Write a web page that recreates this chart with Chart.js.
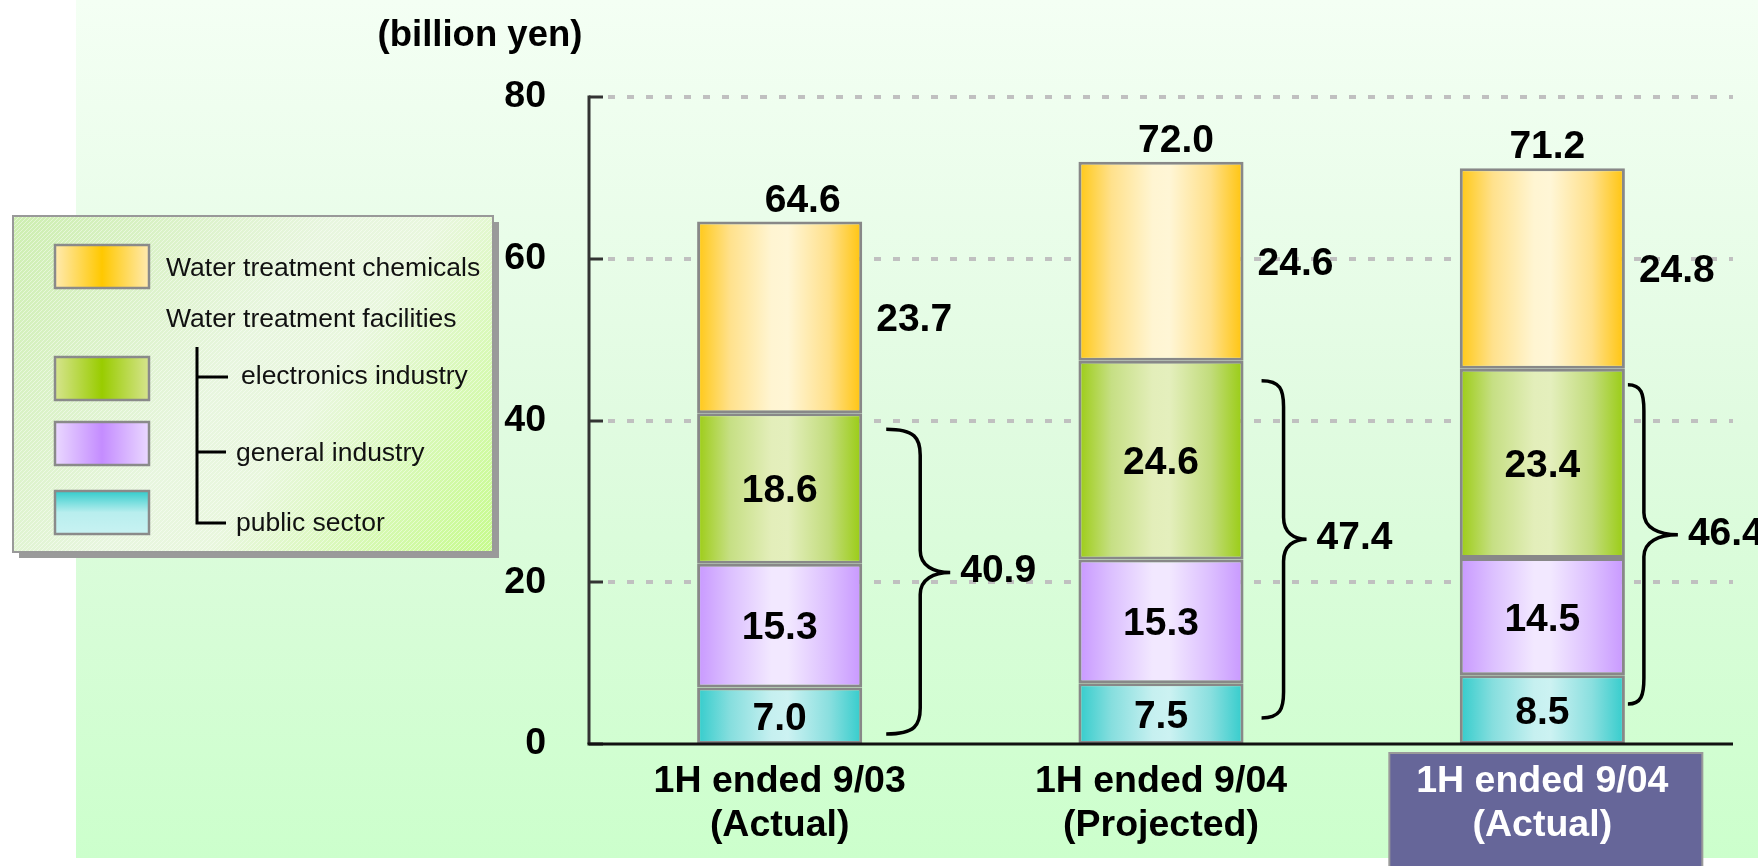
<!DOCTYPE html>
<html><head><meta charset="utf-8">
<script src="https://cdn.jsdelivr.net/npm/chart.js@4.4.1/dist/chart.umd.min.js"></script>
<style>html,body{margin:0;padding:0;background:#fff;}#wrap{width:1758px;height:866px;position:relative;}</style>
</head><body><div id="wrap"><canvas id="c"></canvas></div>
<script>
// ---------- data ----------
const categories = [['1H ended 9/03','(Actual)'],['1H ended 9/04','(Projected)'],['1H ended 9/04','(Actual)']];
const seriesNames = ['public sector','general industry','electronics industry','Water treatment chemicals'];
const publicSector = [7.0, 7.5, 8.5];
const generalIndustry = [15.3, 15.3, 14.5];
const electronicsIndustry = [18.6, 24.6, 23.4];
const waterChemicals = [23.7, 24.6, 24.8];
const yTickValues = [0, 20, 40, 60, 80];
const unitLabel = '(billion yen)';
const facilitiesTitle = 'Water treatment facilities';

// ---------- style ----------
const FONT = '"Liberation Sans", Arial, Helvetica, sans-serif';
const LABEL_SIZE = 39;
const stopsPos = [0, 0.2, 0.45, 0.55, 0.8, 1];
const barStops = [
  ['#33cccc','#86dede','#c6f0f0','#ccf2f2','#8adfdf','#33cccc'],
  ['#c898ff','#dcc0ff','#f2e8ff','#f2e8ff','#dcbfff','#c898ff'],
  ['#9ccc14','#c6df84','#e3eeba','#e4efbd','#c2dc7c','#99cc11'],
  ['#ffc814','#ffe18c','#fff5d2','#fff6d6','#ffe08a','#ffc40c']
];
const braceX = [[24,58,88],[18,40,63],[3,19,53]];
const braceTopGap = [16,20,16];
const braceBotGap = [10,26,40];
const totalDx = [23,15,5];
const BAR_PCT = 0.433;

function barGradient(i){
  return function(ctx){
    const chart = ctx.chart;
    const xs = chart.scales.x;
    if (!chart.chartArea || !xs) return barStops[i][0];
    const cx = xs.getPixelForValue(ctx.dataIndex);
    const w = xs.width / categories.length * BAR_PCT;
    const g = chart.ctx.createLinearGradient(cx - w/2, 0, cx + w/2, 0);
    stopsPos.forEach((p,k)=>g.addColorStop(p, barStops[i][k]));
    return g;
  };
}

function textMid(ctx, txt, x, y, size){
  ctx.font = 'bold ' + size + 'px ' + FONT;
  ctx.textBaseline = 'alphabetic';
  ctx.fillText(txt, x, y + size*0.358);
}

function drawBrace(ctx, xe, xs, xt, yTop, yTip, yBot){
  const r = 26, rt = 22;
  ctx.beginPath();
  ctx.moveTo(xe, yTop);
  ctx.bezierCurveTo(xs - (xs-xe)*0.15, yTop, xs, yTop + r*0.35, xs, yTop + r);
  ctx.lineTo(xs, yTip - rt);
  ctx.bezierCurveTo(xs, yTip - rt*0.3, xt - (xt-xs)*0.55, yTip, xt, yTip);
  ctx.bezierCurveTo(xt - (xt-xs)*0.55, yTip, xs, yTip + rt*0.3, xs, yTip + rt);
  ctx.lineTo(xs, yBot - r);
  ctx.bezierCurveTo(xs, yBot - r*0.35, xs - (xs-xe)*0.15, yBot, xe, yBot);
  ctx.stroke();
}

const deco = {
  id: 'deco',
  beforeDraw(chart){
    const ctx = chart.ctx;
    ctx.save();
    ctx.fillStyle = '#ffffff';
    ctx.fillRect(0,0,chart.width,chart.height);
    const g = ctx.createLinearGradient(0,0,0,858);
    g.addColorStop(0,'#f4fff4');
    g.addColorStop(0.5,'#e0fbe0');
    g.addColorStop(1,'#ccffcc');
    ctx.fillStyle = g;
    ctx.fillRect(76,0,chart.width-76,858);
    // highlighted category box
    const cx = chart.scales.x.getPixelForValue(2);
    ctx.fillStyle = '#666699';
    ctx.fillRect(cx-153, 753, 313, 120);
    ctx.strokeStyle = '#9a9a9a';
    ctx.lineWidth = 2;
    ctx.strokeRect(cx-153, 753, 313, 120);
    ctx.restore();
  },
  beforeDatasetsDraw(chart){
    const ctx = chart.ctx, ys = chart.scales.y, a = chart.chartArea;
    ctx.save();
    ctx.strokeStyle = '#c0c0c0';
    ctx.lineWidth = 4;
    ctx.setLineDash([7,12]);
    ys.ticks.forEach(t=>{
      if (t.value === 0) return;
      const y = Math.round(ys.getPixelForValue(t.value));
      ctx.beginPath(); ctx.moveTo(a.left+19, y); ctx.lineTo(a.right, y); ctx.stroke();
    });
    ctx.setLineDash([]);
    ctx.strokeStyle = '#333';
    ctx.lineWidth = 3;
    ctx.beginPath(); ctx.moveTo(a.left, a.top-1.5); ctx.lineTo(a.left, a.bottom); ctx.stroke();
    ys.ticks.forEach(t=>{
      const y = Math.round(ys.getPixelForValue(t.value));
      ctx.beginPath(); ctx.moveTo(a.left, y); ctx.lineTo(a.left+14, y); ctx.stroke();
    });
    ctx.restore();
  },
  afterDatasetsDraw(chart){
    const ctx = chart.ctx, a = chart.chartArea, ys = chart.scales.y;
    ctx.save();
    ctx.strokeStyle = '#111'; ctx.lineWidth = 3;
    ctx.beginPath(); ctx.moveTo(a.left-1.5, a.bottom); ctx.lineTo(a.right, a.bottom); ctx.stroke();
    ctx.fillStyle = '#000';
    const metas = [0,1,2,3].map(i=>chart.getDatasetMeta(i));
    const all = [publicSector, generalIndustry, electronicsIndustry, waterChemicals];
    for (let j=0;j<categories.length;j++){
      for (let i=0;i<3;i++){
        const el = metas[i].data[j];
        ctx.textAlign = 'center';
        textMid(ctx, all[i][j].toFixed(1), el.x, (el.y+el.base)/2, LABEL_SIZE);
      }
      const top = metas[3].data[j];
      const right = top.x + top.width/2;
      ctx.textAlign = 'left';
      textMid(ctx, waterChemicals[j].toFixed(1), right+14, (top.y+top.base)/2, LABEL_SIZE);
      const total = all.reduce((s,arr)=>s+arr[j],0);
      ctx.textAlign = 'center';
      ctx.font = 'bold ' + LABEL_SIZE + 'px ' + FONT;
      ctx.textBaseline = 'alphabetic';
      ctx.fillText(total.toFixed(1), top.x + totalDx[j], top.y - 10);
      const fac = publicSector[j] + generalIndustry[j] + electronicsIndustry[j];
      const yTop = ys.getPixelForValue(fac) + braceTopGap[j];
      const yBot = ys.getPixelForValue(0) - braceBotGap[j];
      const yTip = yTop + (yBot-yTop)*0.47;
      const [dE,dS,dT] = braceX[j];
      ctx.strokeStyle = '#000'; ctx.lineWidth = 3.5;
      drawBrace(ctx, right+dE, right+dS, right+dT, yTop, yTip, yBot);
      ctx.textAlign = 'left';
      textMid(ctx, fac.toFixed(1), right+dT+10, yTip-4, LABEL_SIZE);
    }
    ctx.restore();
  },
  afterDraw(chart){
    const ctx = chart.ctx;
    ctx.save();
    ctx.fillStyle = '#000';
    ctx.textAlign = 'center';
    textMid(ctx, unitLabel, 480, 33, 36.5);
    // legend box
    ctx.fillStyle = '#9a9a9a';
    ctx.fillRect(19,222,480,336);
    const lg = ctx.createLinearGradient(13,216,493,552);
    lg.addColorStop(0,'#cdeeb0');
    lg.addColorStop(0.45,'#e8f6df');
    lg.addColorStop(0.6,'#e9f7de');
    lg.addColorStop(1,'#c6fb8c');
    ctx.fillStyle = lg;
    ctx.fillRect(13,216,480,336);
    const pc = document.createElement('canvas'); pc.width = 4; pc.height = 4;
    const p = pc.getContext('2d');
    p.strokeStyle = 'rgba(255,255,255,0.45)'; p.lineWidth = 1;
    p.beginPath(); p.moveTo(-1,5); p.lineTo(5,-1); p.stroke();
    ctx.fillStyle = ctx.createPattern(pc,'repeat');
    ctx.fillRect(13,216,480,336);
    ctx.strokeStyle = '#999'; ctx.lineWidth = 2;
    ctx.strokeRect(13,216,480,336);
    const sw = [
      {y:245, stops:['#ffeab0','#ffc800','#ffeab0'], v:false},
      {y:357, stops:['#d6e48e','#99cc00','#d6e48e'], v:false},
      {y:422, stops:['#ead8ff','#c48cff','#ead8ff'], v:false},
      {y:491, stops:['#33cccc','#b8eeee','#c8f2f2'], v:true}
    ];
    sw.forEach(s=>{
      const g = s.v ? ctx.createLinearGradient(0,s.y,0,s.y+43) : ctx.createLinearGradient(55,0,149,0);
      g.addColorStop(0,s.stops[0]); g.addColorStop(0.5,s.stops[1]); g.addColorStop(1,s.stops[2]);
      ctx.fillStyle = g;
      ctx.fillRect(55,s.y,94,43);
      ctx.strokeStyle = '#8a8a8a'; ctx.lineWidth = 2.5;
      ctx.strokeRect(55,s.y,94,43);
    });
    ctx.fillStyle = '#111';
    ctx.textAlign = 'left';
    ctx.textBaseline = 'alphabetic';
    const LS = 26.5;
    ctx.font = LS + 'px ' + FONT;
    const tm = (t,x,y)=>ctx.fillText(t,x,y+LS*0.358);
    tm(seriesNames[3],166,267);
    tm(facilitiesTitle,166,318);
    tm(seriesNames[2],241,375);
    tm(seriesNames[1],236,452);
    tm(seriesNames[0],236,522);
    ctx.strokeStyle = '#000'; ctx.lineWidth = 3;
    ctx.beginPath();
    ctx.moveTo(197,347); ctx.lineTo(197,523); ctx.lineTo(226,523);
    ctx.moveTo(197,377); ctx.lineTo(228,377);
    ctx.moveTo(197,452); ctx.lineTo(226,452);
    ctx.stroke();
    ctx.restore();
  }
};

new Chart(document.getElementById('c'), {
  type: 'bar',
  data: {
    labels: categories,
    datasets: [
      {label: seriesNames[0], data: publicSector, backgroundColor: barGradient(0)},
      {label: seriesNames[1], data: generalIndustry, backgroundColor: barGradient(1)},
      {label: seriesNames[2], data: electronicsIndustry, backgroundColor: barGradient(2)},
      {label: seriesNames[3], data: waterChemicals, backgroundColor: barGradient(3)}
    ]
  },
  options: {
    responsive: true, maintainAspectRatio: false, animation: false, devicePixelRatio: 1,
    layout: {padding: {left: 0, right: 25, top: 97, bottom: 0}},
    plugins: {legend: {display: false}, tooltip: {enabled: false}},
    datasets: {bar: {categoryPercentage: 1, barPercentage: BAR_PCT, borderColor: '#888', borderWidth: 3, borderSkipped: false}},
    scales: {
      x: {
        stacked: true,
        grid: {display: false, drawTicks: false},
        border: {display: false},
        ticks: {
          color: c => c.index === 2 ? '#ffffff' : '#000000',
          font: {family: FONT, size: 37.5, weight: 'bold', lineHeight: 1.17},
          padding: 16, maxRotation: 0, autoSkip: false
        },
        afterFit: s => { s.height = 122; }
      },
      y: {
        stacked: true, min: 0, max: 80,
        afterBuildTicks: s => { s.ticks = yTickValues.map(v => ({value: v})); },
        ticks: {color: '#000', font: {family: FONT, size: 37.5, weight: 'bold'}, padding: 43},
        grid: {display: false, drawTicks: false},
        border: {display: false},
        afterFit: s => { s.width = 589; }
      }
    }
  },
  plugins: [deco]
});
</script>
</body></html>
